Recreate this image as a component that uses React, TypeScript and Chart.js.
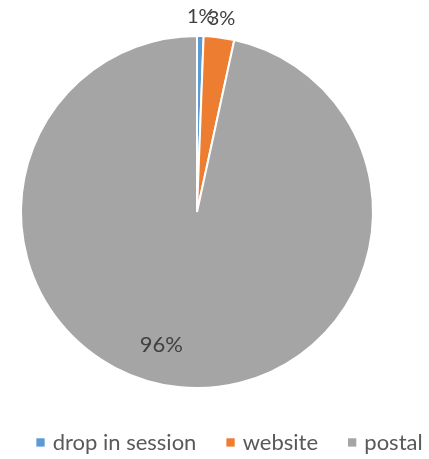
import React, { useEffect, useRef } from "react";
import { Chart, registerables } from "chart.js";

Chart.register(...registerables);

const categories = ["drop in session", "website", "postal"];
const values = [0.6, 2.8, 96.6];
const valueLabels = ["1%", "3%", "96%"];
const colors = ["#5B9BD5", "#ED7D31", "#A5A5A5"];

const FONT = "Lato, 'Open Sans', sans-serif";

const labelPlugin = {
  id: "sliceLabels",
  afterDatasetsDraw(chart: any) {
    const ctx = chart.ctx;
    const meta = chart.getDatasetMeta(0);
    const total = values.reduce((a, b) => a + b, 0);
    ctx.save();
    ctx.fillStyle = "#404040";
    ctx.textAlign = "center";
    ctx.textBaseline = "alphabetic";
    meta.data.forEach((arc: any, i: number) => {
      const { x, y, startAngle, endAngle, outerRadius } = arc.getProps(
        ["x", "y", "startAngle", "endAngle", "outerRadius"],
        true
      );
      const share = values[i] / total;
      let mid = (startAngle + endAngle) / 2;
      let d: number;
      let size: number;
      if (share < 0.05) {
        d = outerRadius + 20;
        size = 20;
      } else {
        mid += (9 * Math.PI) / 180;
        d = outerRadius * 0.776;
        size = 22;
      }
      const cx = x + Math.cos(mid) * d;
      const cy = y + Math.sin(mid) * d;
      ctx.font = `${size}px ${FONT}`;
      ctx.fillText(valueLabels[i], cx, cy + size * 0.36);
    });
    ctx.restore();
  },
};

const legendPlugin = {
  id: "bottomLegend",
  afterDraw(chart: any) {
    const ctx = chart.ctx;
    const size = 22;
    const box = 8.3;
    const textGap = 8;
    const itemGap = 30;
    const centerX = 229.5;
    const baseline = 450;
    ctx.save();
    ctx.font = `${size}px ${FONT}`;
    const widths = categories.map((c) => ctx.measureText(c).width);
    const total =
      widths.reduce((a, w) => a + box + textGap + w, 0) +
      itemGap * (categories.length - 1);
    let x = centerX - total / 2;
    ctx.textAlign = "left";
    ctx.textBaseline = "alphabetic";
    categories.forEach((c, i) => {
      ctx.fillStyle = colors[i];
      ctx.fillRect(x, baseline - 11.7, box, box);
      ctx.fillStyle = "#595959";
      ctx.fillText(c, x + box + textGap, baseline);
      x += box + textGap + widths[i] + itemGap;
    });
    ctx.restore();
  },
};

export default function App() {
  const ref = useRef<HTMLCanvasElement>(null);
  useEffect(() => {
    document.body.style.margin = "0";
    const chart = new Chart(ref.current!, {
      type: "pie",
      data: {
        labels: categories,
        datasets: [
          {
            data: values,
            backgroundColor: colors,
            borderColor: "#FFFFFF",
            borderWidth: 2,
          },
        ],
      },
      options: {
        responsive: false,
        animation: false,
        layout: { padding: { left: 20, top: 35, right: 55, bottom: 70 } },
        plugins: {
          legend: { display: false },
          tooltip: { enabled: false },
        },
      },
      plugins: [labelPlugin, legendPlugin],
    });
    return () => chart.destroy();
  }, []);
  return (
    <div style={{ position: "absolute", left: 0, top: 0, width: 429, height: 459, background: "#fff" }}>
      <canvas ref={ref} width={429} height={459} />
    </div>
  );
}
